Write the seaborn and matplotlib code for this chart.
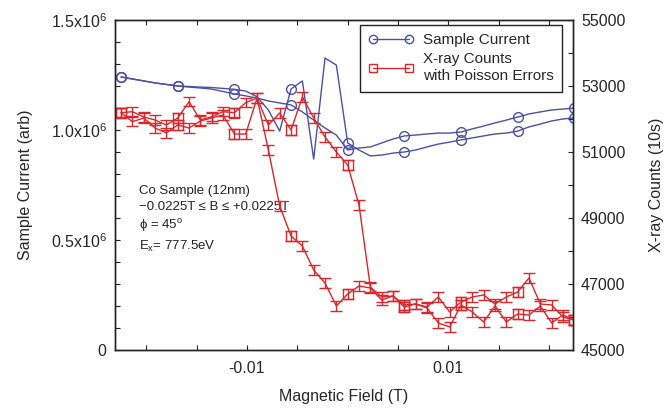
import numpy as np
import matplotlib
matplotlib.use("Agg")
import matplotlib.pyplot as plt
from matplotlib import ticker
from matplotlib.lines import Line2D
import seaborn as sns
import pandas as pd

sns.set_theme(style="ticks")
plt.rcParams["font.family"] = ["Liberation Sans", "DejaVu Sans"]
plt.rcParams["mathtext.default"] = "regular"

# Field grid (T), shared by both sweeps
field = [-0.0225, -0.021375, -0.02025, -0.019125, -0.018, -0.016875, -0.01575,
         -0.014625, -0.0135, -0.012375, -0.01125, -0.010125, -0.009, -0.007875,
         -0.00675, -0.005625, -0.0045, -0.003375, -0.00225, -0.001125, 0.0,
         0.001125, 0.00225, 0.003375, 0.0045, 0.005625, 0.00675, 0.007875,
         0.009, 0.010125, 0.01125, 0.012375, 0.0135, 0.014625, 0.01575,
         0.016875, 0.018, 0.019125, 0.02025, 0.021375, 0.0225]

# Sample current (arb), two sweep branches
current_a = [1.241e6, 1.232e6, 1.223e6, 1.214e6, 1.207e6, 1.200e6, 1.198e6, 1.195e6,
             1.193e6, 1.189e6, 1.185e6, 1.177e6, 1.151e6, 1.091e6, 0.995e6, 1.186e6,
             1.223e6, 0.868e6, 1.327e6, 1.295e6, 0.941e6, 0.909e6, 0.882e6, 0.886e6,
             0.895e6, 0.900e6, 0.909e6, 0.923e6, 0.936e6, 0.945e6, 0.955e6, 0.964e6,
             0.973e6, 0.982e6, 0.986e6, 0.995e6, 1.014e6, 1.027e6, 1.041e6, 1.050e6,
             1.056e6]
current_b = [1.241e6, 1.232e6, 1.223e6, 1.214e6, 1.207e6, 1.200e6, 1.195e6, 1.191e6,
             1.186e6, 1.175e6, 1.164e6, 1.155e6, 1.145e6, 1.132e6, 1.123e6, 1.114e6,
             1.082e6, 1.045e6, 1.009e6, 0.977e6, 0.909e6, 0.918e6, 0.923e6, 0.941e6,
             0.959e6, 0.973e6, 0.977e6, 0.982e6, 0.986e6, 0.986e6, 0.991e6, 1.005e6,
             1.018e6, 1.032e6, 1.045e6, 1.059e6, 1.073e6, 1.082e6, 1.091e6, 1.095e6,
             1.100e6]

# X-ray counts (10 s), sweep up / sweep down
counts_up = [52191, 51918, 52030, 51727, 51576, 51818, 51727, 51939, 52030, 52121,
             51545, 51545, 52636, 51818, 52182, 51667, 52667, 52030, 51455, 51000,
             50606, 49394, 46909, 46606, 46636, 46364, 46394, 46273, 45818, 45697,
             46364, 46152, 45848, 46333, 45848, 46091, 46061, 46333, 45818, 46061,
             45909]
counts_down = [52191, 52221, 52061, 51970, 51818, 52030, 52524, 51970, 52070, 52221,
               52191, 52494, 52636, 51061, 49364, 48455, 48152, 47424, 47030, 46333,
               46697, 46939, 46879, 46515, 46636, 46303, 46394, 46303, 46606, 46152,
               46455, 46606, 46667, 46394, 46606, 46758, 47182, 46394, 46364, 46000,
               45909]
counts_err = 140

left_ticks = [0, 0.5e6, 1.0e6, 1.5e6]
left_labels = ["0", r"0.5x10$^6$", r"1.0x10$^6$", r"1.5x10$^6$"]
right_ticks = [45000, 47000, 49000, 51000, 53000, 55000]
x_ticks = [-0.01, 0.01]
x_labels = ["-0.01", "0.01"]

blue = "#4b50a3"
red = "#d8272d"

cur = pd.DataFrame({"field": field * 2,
                    "current": current_a + current_b,
                    "sweep": ["a"] * len(field) + ["b"] * len(field)})
xr = pd.DataFrame({"field": field * 2,
                   "counts": counts_up + counts_down,
                   "sweep": ["up"] * len(field) + ["down"] * len(field)})

fig = plt.figure(figsize=(6.66, 4.09), dpi=100)
ax = fig.add_axes([0.1727, 0.1443, 0.6872, 0.8068])
ax2 = ax.twinx()

sns.lineplot(data=cur, x="field", y="current", units="sweep", estimator=None,
             sort=False, color=blue, lw=1, marker="o", markevery=5, ms=7,
             mfc="none", mec=blue, mew=1, ax=ax, legend=False)

sns.lineplot(data=xr, x="field", y="counts", units="sweep", estimator=None,
             sort=False, color=red, lw=1, marker="s", markevery=5, ms=7,
             mfc="none", mec=red, mew=1, ax=ax2, legend=False)
for sw, grp in xr.groupby("sweep"):
    ax2.errorbar(grp["field"], grp["counts"], yerr=counts_err, fmt="none",
                 ecolor=red, elinewidth=1, capsize=4, capthick=1)

ax.set_xlim(-0.0231, 0.02234)
ax.set_ylim(0, 1.5e6)
ax2.set_ylim(45000, 55000)

ax.xaxis.set_major_locator(ticker.FixedLocator(x_ticks))
ax.xaxis.set_major_formatter(ticker.FixedFormatter(x_labels))
ax.xaxis.set_minor_locator(ticker.MultipleLocator(0.005))
ax.yaxis.set_major_locator(ticker.FixedLocator(left_ticks))
ax.yaxis.set_major_formatter(ticker.FixedFormatter(left_labels))
ax.yaxis.set_minor_locator(ticker.MultipleLocator(0.1e6))
ax2.yaxis.set_major_locator(ticker.FixedLocator(right_ticks))
ax2.yaxis.set_minor_locator(ticker.MultipleLocator(1000))

for a in (ax, ax2):
    a.tick_params(which="both", direction="in", length=3.5, width=0.8,
                  color="#222222", labelsize=11.5, top=True, pad=6)
    for s in a.spines.values():
        s.set_linewidth(1)
        s.set_color("#222222")
ax.tick_params(axis="x", pad=8)

ax.set_xlabel("Magnetic Field (T)", fontsize=11.5, labelpad=9)
ax.set_ylabel("Sample Current (arb)", fontsize=11.5, labelpad=13)
ax2.set_ylabel("X-ray Counts (10s)", fontsize=11.5, labelpad=17)

ax.text(0.052, 0.5,
        "Co Sample (12nm)\n"
        "\u22120.0225T \u2264 B \u2264 +0.0225T\n"
        "\u03d5 = 45$^o$\n"
        "E$_x$= 777.5eV",
        transform=ax.transAxes, fontsize=9.5, va="top", ha="left",
        linespacing=1.4, color="#222222")

handles = [
    Line2D([], [], color=blue, lw=1, marker="o", ms=6, mfc="none", mec=blue),
    Line2D([], [], color=red, lw=1, marker="s", ms=6, mfc="none", mec=red),
]
leg = ax2.legend(handles, ["Sample Current", "X-ray Counts\nwith Poisson Errors"],
                 loc="upper right", bbox_to_anchor=(0.977, 0.985), borderaxespad=0,
                 numpoints=2, handlelength=3.0, fontsize=11, fancybox=False,
                 framealpha=1, edgecolor="#222222", labelspacing=0.3,
                 borderpad=0.55, handletextpad=0.6)
leg.get_frame().set_linewidth(1)
leg.get_texts()[1].set_linespacing(1.3)

fig.savefig("out.png", dpi=100)
